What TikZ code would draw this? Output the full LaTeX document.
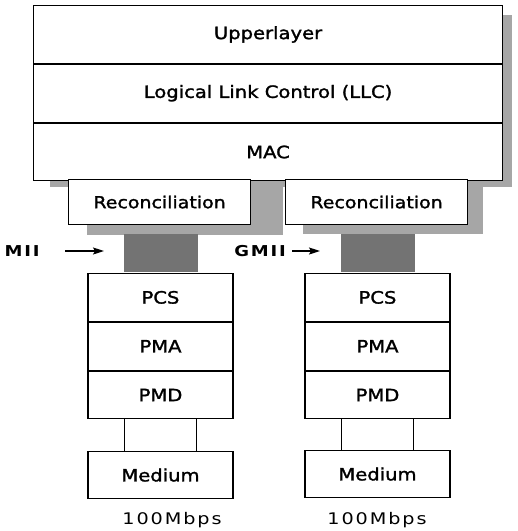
\documentclass[tikz,border=0pt]{standalone}
\usepackage{fontspec}
\setmainfont{DejaVu Sans}[FakeStretch=1.15, FakeBold=1.6]
\newfontfamily\spacedfont{DejaVu Sans}[FakeStretch=1.2, LetterSpace=12]
\usetikzlibrary{arrows.meta, positioning}

\begin{document}
\begin{tikzpicture}[x=1pt, y=-1pt, line width=1.1pt,
  layerbox/.style={draw, fill=white, inner sep=0pt, anchor=north west,
    minimum width=469pt, minimum height=57.7pt, font=\fontsize{17}{20}\selectfont},
  recbox/.style={draw, fill=white, inner sep=0pt, anchor=north west,
    minimum width=182pt, minimum height=45pt, font=\fontsize{16.5}{19}\selectfont},
  phybox/.style={draw, fill=white, inner sep=0pt, minimum width=145pt,
    minimum height=47.7pt, font=\fontsize{17}{20}\selectfont},
  shadowfill/.style={fill=black!35},
  ifaceblock/.style={fill=black!55, inner sep=0pt, minimum width=74pt, minimum height=38pt},
  ifacelabel/.style={inner sep=0pt, font=\spacedfont\fontsize{15}{18}\selectfont\bfseries},
  ratelabel/.style={inner sep=0pt, font=\spacedfont\fontsize{16}{19}\selectfont},
  tiparrow/.style={-{Stealth[length=11pt, width=7pt, inset=2pt]}, line width=1.4pt}]
  \useasboundingbox (0,0) rectangle (518,531);
  % shadows behind the upper stack and the reconciliation boxes
  \fill[shadowfill] (50,15) rectangle (512,187);
  \fill[shadowfill] (87,180) rectangle (283,235);
  \fill[shadowfill] (303,180) rectangle (483,234);
  % common upper layers
  \node[layerbox] (upper) at (33,5) {Upperlayer};
  \node[layerbox, below=0pt of upper] (llc) {Logical Link Control (LLC)};
  \node[layerbox, below=0pt of llc] (mac) {MAC};
  % reconciliation sublayers
  \node[recbox] (recA) at (68,179) {Reconciliation};
  \node[recbox] (recB) at (285,179) {Reconciliation};
  % physical stacks
  \node[phybox, anchor=north] (pcsA) at (160.5,273) {PCS};
  \node[phybox, below=0pt of pcsA] (pmaA) {PMA};
  \node[phybox, below=0pt of pmaA] (pmdA) {PMD};
  \node[phybox, anchor=north, minimum height=47pt] (medA) at (160.5,451) {Medium};
  \node[phybox, anchor=north] (pcsB) at (377.5,273) {PCS};
  \node[phybox, below=0pt of pcsB] (pmaB) {PMA};
  \node[phybox, below=0pt of pmaB] (pmdB) {PMD};
  \node[phybox, anchor=north, minimum height=47pt] (medB) at (377.5,450) {Medium};
  % media independent interfaces
  \node[ifaceblock, anchor=south] (miiLink) at (pcsA.north) {};
  \node[ifaceblock, anchor=south] (gmiiLink) at (pcsB.north) {};
  \node[ifacelabel] (mii) at (22,251) {MII};
  \node[ifacelabel] (gmii) at (260,251) {GMII};
  \coordinate (miiTail) at (65,251);
  \coordinate (miiHead) at (104,251);
  \coordinate (gmiiTail) at (292,251);
  \coordinate (gmiiHead) at (320,251);
  \draw[tiparrow] (miiTail) -- (miiHead);
  \draw[tiparrow] (gmiiTail) -- (gmiiHead);
  % links to the medium
  \foreach \s in {-36,36} {
    \draw ([xshift=\s pt]pmdA.south) -- ([xshift=\s pt]medA.north);
    \draw ([xshift=\s pt]pmdB.south) -- ([xshift=\s pt]medB.north);
  }
  \node[ratelabel] (rateA) at (172,520) {100Mbps};
  \node[ratelabel] (rateB) at (377,520) {100Mbps};
\end{tikzpicture}
\end{document}
